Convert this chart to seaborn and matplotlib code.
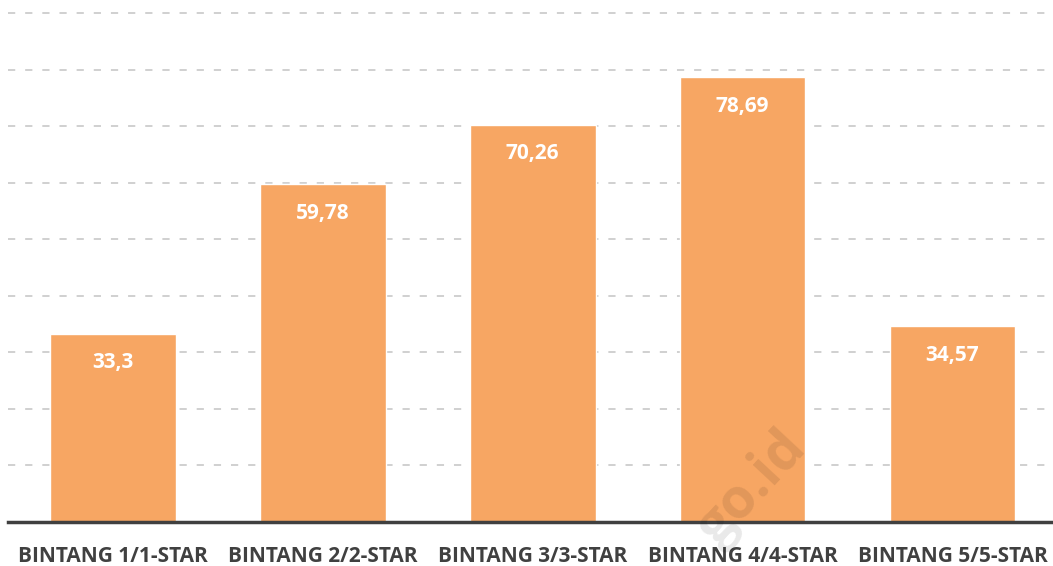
import matplotlib
matplotlib.use("Agg")
import matplotlib.pyplot as plt
import seaborn as sns
import pandas as pd

categories = ["BINTANG 1/1-STAR", "BINTANG 2/2-STAR", "BINTANG 3/3-STAR",
              "BINTANG 4/4-STAR", "BINTANG 5/5-STAR"]
values = [33.3, 59.78, 70.26, 78.69, 34.57]
value_labels = ["33,3", "59,78", "70,26", "78,69", "34,57"]

sns.set_theme(style="white")
plt.rcParams['font.family'] = ['Open Sans', 'DejaVu Sans']

df = pd.DataFrame({"cat": categories, "val": values})

fig = plt.figure(figsize=(10.53, 5.66), dpi=100)
ax = fig.add_axes([7.5/1053, 44/566, 1050/1053, 522/566])

sns.barplot(data=df, x="cat", y="val", color="#F7A663", saturation=1,
            width=0.6, ax=ax, zorder=3)

ax.set_ylim(0, 92.3)
ax.set_xlim(-0.5, 4.5)
ax.set_yticks(range(0, 100, 10))
ax.yaxis.grid(True, color="#CDCDCD", linestyle=(0, (4, 5.5)), linewidth=1.3, zorder=0)
ax.set_axisbelow(True)
for s in ["top", "right", "left"]:
    ax.spines[s].set_visible(False)
ax.spines["bottom"].set_color("#404040")
ax.spines["bottom"].set_linewidth(2.5)
ax.spines["bottom"].set_zorder(5)
ax.tick_params(axis="y", left=False, labelleft=False)
ax.tick_params(axis="x", bottom=False, pad=11, labelsize=15, labelcolor="#404040")
for t in ax.get_xticklabels():
    t.set_fontweight("bold")
ax.set_xlabel("")
ax.set_ylabel("")

for i, (v, lab) in enumerate(zip(values, value_labels)):
    ax.annotate(lab, (i, v), xytext=(0, -21), textcoords="offset points",
                ha="center", va="center", color="white", fontsize=15,
                fontweight="bold", zorder=6)

fig.text(752/1053, 1 - 488/566, "go.id", rotation=47,
         fontsize=40, fontweight="bold", color="#000000", alpha=0.09,
         ha="center", va="center", zorder=7)

fig.savefig("out.png", dpi=100)
